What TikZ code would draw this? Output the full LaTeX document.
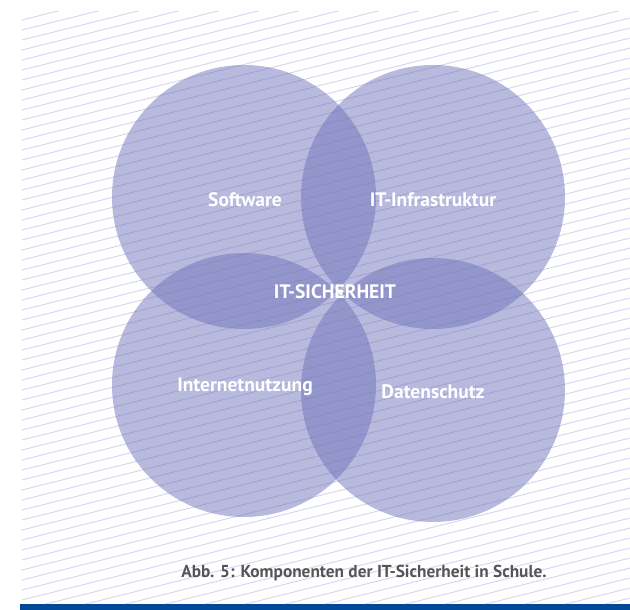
\documentclass[tikz,border=0pt]{standalone}
\usepackage{fontspec}
\setmainfont{PT Sans}
\definecolor{hatch}{RGB}{206,206,240}
\definecolor{disc}{RGB}{108,112,184}
\definecolor{bar}{RGB}{0,72,152}
\definecolor{captiongray}{RGB}{85,85,85}
\begin{document}
\begin{tikzpicture}[x=1pt,y=-1pt,
  set/.style={circle,minimum size=264pt,inner sep=0pt,fill=disc,fill opacity=0.48,draw=none},
  lab/.style={text=white,font=\bfseries\fontsize{19.5}{22}\selectfont,inner sep=0pt},
  captext/.style={text=captiongray,font=\bfseries\fontsize{17.3}{20}\selectfont,inner sep=0pt}]
\useasboundingbox (0,0) rectangle (630,610);
\fill[white] (0,0) rectangle (630,610);
% hatched background
\begin{scope}
  \clip (22,12) rectangle (630,604);
  \foreach \c in {25.5,35.5,...,775.5}
    \draw[hatch,line width=0.8pt] (22,\c-5.5) -- (630,\c-157.5);
\end{scope}
% bottom bar
\fill[bar] (20,604) rectangle (630,610);
% sets
\node[set] (sw) at (244,197) {};
\node[set] (inf) at (433,197) {};
\node[set] (inet) at (244,385) {};
\node[set] (ds) at (433,390) {};
% labels
\node[lab] (lsw) at (245,200) {Software};
\node[lab] (linf) at (433,200) {IT-Infrastruktur};
\node[lab] (lits) at (335,292) {IT-SICHERHEIT};
\node[lab] (linet) at (245,387) {Internetnutzung};
\node[lab] (lds) at (433,392) {Datenschutz};
\node[captext] (caption) at (364,573) {Abb. 5: Komponenten der IT-Sicherheit in Schule.};
\end{tikzpicture}
\end{document}
